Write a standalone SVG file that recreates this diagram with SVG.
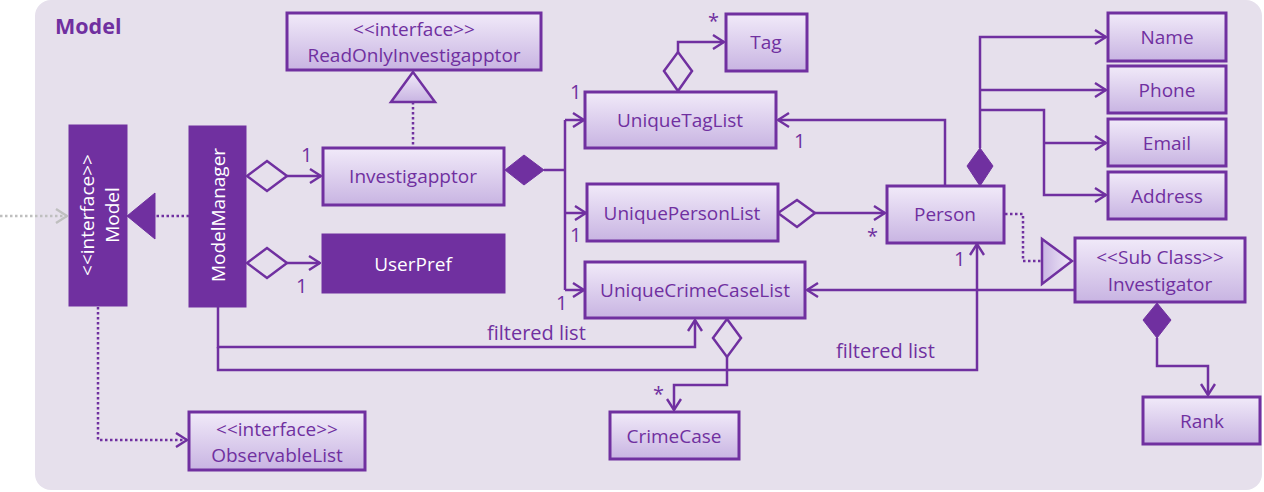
<svg xmlns="http://www.w3.org/2000/svg" width="1264" height="492" viewBox="0 0 1264 492">
<defs>
<linearGradient id="g" x1="0" y1="0" x2="0" y2="1">
<stop offset="0" stop-color="#F1EAF9"/>
<stop offset="1" stop-color="#C8B4E2"/>
</linearGradient>
<linearGradient id="gh" x1="0" y1="0" x2="1" y2="0">
<stop offset="0" stop-color="#C8B4E2"/>
<stop offset="1" stop-color="#F1EAF9"/>
</linearGradient>
<marker id="arr" viewBox="0 0 13 16" refX="12" refY="8" markerWidth="13" markerHeight="16" markerUnits="userSpaceOnUse" orient="auto">
<path d="M1,1 L12,8 L1,15" fill="none" stroke="#7030A0" stroke-width="2.4"/>
</marker>
<marker id="arrg" viewBox="0 0 13 16" refX="12" refY="8" markerWidth="13" markerHeight="16" markerUnits="userSpaceOnUse" orient="auto">
<path d="M1,1 L12,8 L1,15" fill="none" stroke="#BFBFBF" stroke-width="2.4"/>
</marker>
</defs>
<style>
.box{fill:url(#g);stroke:#7030A0;stroke-width:3}
.dark{fill:#7030A0;stroke:#7030A0;stroke-width:1}
.t{font-family:"Open Sans","Noto Sans",sans-serif;font-size:19px;fill:#7030A0;text-anchor:middle}
.w{fill:#FFFFFF}
.ln{fill:none;stroke:#7030A0;stroke-width:2.5}
.dot{fill:none;stroke:#7030A0;stroke-width:2.5;stroke-dasharray:2.5,2.5}
.hd{fill:#E6E0EC;stroke:#7030A0;stroke-width:2.5}
.fd{fill:#7030A0;stroke:#7030A0;stroke-width:1}
.lbl{font-family:"Open Sans","Noto Sans",sans-serif;font-size:20px;fill:#7030A0}
</style>
<rect x="35" y="0" width="1227" height="490" rx="16" fill="#E6E0EC"/>
<text x="55" y="34" font-family="'Open Sans','Noto Sans',sans-serif" font-size="21.5" font-weight="bold" fill="#7030A0">Model</text>

<g id="connectors">
<line x1="0" y1="216" x2="67" y2="216" stroke="#BFBFBF" stroke-width="2.5" stroke-dasharray="2.5,2.5" marker-end="url(#arrg)"/>
<line class="dot" x1="189" y1="216" x2="155" y2="216"/>
<polygon class="fd" points="127,216 155,193 155,239"/>
<polyline class="dot" points="98,307 98,440 187,440" marker-end="url(#arr)"/>
<line class="dot" x1="413" y1="102" x2="413" y2="147"/>
<polygon points="413,72 391,102 435,102" fill="url(#g)" stroke="#7030A0" stroke-width="2.5"/>
<polygon class="hd" points="247,176 267,161 287,176 267,191"/>
<line class="ln" x1="287" y1="176" x2="321" y2="176" marker-end="url(#arr)"/>
<polygon class="hd" points="247,263 267,248 287,263 267,278"/>
<line class="ln" x1="287" y1="263" x2="320" y2="263" marker-end="url(#arr)"/>
<polygon class="fd" points="505,170 524,155 544,170 524,185"/>
<polyline class="ln" points="544,170 565,170"/>
<polyline class="ln" points="565,120 565,290"/>
<line class="ln" x1="565" y1="120" x2="584" y2="120" marker-end="url(#arr)"/>
<line class="ln" x1="565" y1="213" x2="586" y2="213" marker-end="url(#arr)"/>
<line class="ln" x1="565" y1="290" x2="584" y2="290" marker-end="url(#arr)"/>
<polygon class="hd" points="678,91 664,71 678,52 692,71"/>
<polyline class="ln" points="678,52 678,42 724,42" marker-end="url(#arr)"/>
<polygon class="hd" points="778,213 797,200 815,213 797,227"/>
<line class="ln" x1="815" y1="213" x2="885" y2="213" marker-end="url(#arr)"/>
<polyline class="ln" points="945,186 945,120 778,120" marker-end="url(#arr)"/>
<polygon class="fd" points="980,186 967,166 980,148 993,166"/>
<polyline class="ln" points="980,148 980,37 1106,37" marker-end="url(#arr)"/>
<line class="ln" x1="980" y1="90" x2="1106" y2="90" marker-end="url(#arr)"/>
<polyline class="ln" points="980,110 1044,110 1044,195 1106,195" marker-end="url(#arr)"/>
<line class="ln" x1="1044" y1="143" x2="1106" y2="143" marker-end="url(#arr)"/>
<polyline class="dot" points="1005,214 1023,214 1023,261 1042,261"/>
<polygon points="1072,261 1042,239 1042,284" fill="url(#gh)" stroke="#7030A0" stroke-width="2.5"/>
<line class="ln" x1="1075" y1="290" x2="807" y2="290" marker-end="url(#arr)"/>
<polygon class="fd" points="1157,303 1171,320 1157,338 1143,320"/>
<polyline class="ln" points="1157,338 1157,366 1208,366 1208,395" marker-end="url(#arr)"/>
<polygon class="hd" points="727,319 741,338 727,357 713,338"/>
<polyline class="ln" points="727,357 727,385 674,385 674,410" marker-end="url(#arr)"/>
<polyline class="ln" points="218,307 218,347 695,347 695,320" marker-end="url(#arr)"/>
<polyline class="ln" points="218,347 218,370 977,370 977,244" marker-end="url(#arr)"/>
<text class="lbl" x="301" y="162">1</text>
<text class="lbl" x="296" y="293">1</text>
<text class="lbl" x="570" y="99">1</text>
<text class="lbl" x="570" y="242">1</text>
<text class="lbl" x="556" y="310">1</text>
<text class="lbl" x="794" y="148">1</text>
<text class="lbl" x="954" y="266">1</text>
<text class="lbl" x="708" y="28">*</text>
<text class="lbl" x="867" y="243">*</text>
<text class="lbl" x="653" y="401">*</text>
<text class="lbl" x="487" y="340">filtered list</text>
<text class="lbl" x="836" y="358">filtered list</text>
</g>

<g id="Model">
<rect class="dark" x="69" y="125" width="58" height="181"/>
<text class="t w" transform="translate(94,215) rotate(-90)">&lt;&lt;interface&gt;&gt;</text>
<text class="t w" transform="translate(119,215) rotate(-90)">Model</text>
</g>
<g id="ModelManager">
<rect class="dark" x="189" y="126" width="57" height="181"/>
<text class="t w" transform="translate(225,215) rotate(-90)">ModelManager</text>
</g>
<g id="ObservableList">
<rect class="box" x="189" y="412" width="176" height="58"/>
<text class="t" x="277" y="436">&lt;&lt;interface&gt;&gt;</text>
<text class="t" x="277" y="462">ObservableList</text>
</g>
<g id="ReadOnlyInvestigapptor">
<rect class="box" x="287" y="13" width="254" height="57"/>
<text class="t" x="414" y="36">&lt;&lt;interface&gt;&gt;</text>
<text class="t" x="414" y="62">ReadOnlyInvestigapptor</text>
</g>
<g id="Investigapptor">
<rect class="box" x="323" y="148" width="181" height="57"/>
<text class="t" x="413" y="183">Investigapptor</text>
</g>
<g id="UserPref">
<rect class="dark" x="322" y="234" width="183" height="59"/>
<text class="t w" x="413" y="271">UserPref</text>
</g>
<g id="UniqueTagList">
<rect class="box" x="585" y="92" width="191" height="56"/>
<text class="t" x="680" y="127">UniqueTagList</text>
</g>
<g id="UniquePersonList">
<rect class="box" x="587" y="184" width="191" height="57"/>
<text class="t" x="682" y="220">UniquePersonList</text>
</g>
<g id="UniqueCrimeCaseList">
<rect class="box" x="585" y="262" width="220" height="56"/>
<text class="t" x="695" y="297">UniqueCrimeCaseList</text>
</g>
<g id="Tag">
<rect class="box" x="726" y="14" width="81" height="57"/>
<text class="t" x="766" y="49">Tag</text>
</g>
<g id="Person">
<rect class="box" x="887" y="186" width="117" height="57"/>
<text class="t" x="945" y="221">Person</text>
</g>
<g id="Name">
<rect class="box" x="1108" y="13" width="118" height="48"/>
<text class="t" x="1167" y="44">Name</text>
</g>
<g id="Phone">
<rect class="box" x="1108" y="66" width="118" height="47"/>
<text class="t" x="1167" y="97">Phone</text>
</g>
<g id="Email">
<rect class="box" x="1108" y="119" width="118" height="47"/>
<text class="t" x="1167" y="150">Email</text>
</g>
<g id="Address">
<rect class="box" x="1108" y="172" width="118" height="47"/>
<text class="t" x="1167" y="203">Address</text>
</g>
<g id="Investigator">
<rect class="box" x="1075" y="238" width="170" height="64"/>
<text class="t" x="1160" y="264">&lt;&lt;Sub Class&gt;&gt;</text>
<text class="t" x="1160" y="291">Investigator</text>
</g>
<g id="Rank">
<rect class="box" x="1143" y="397" width="117" height="47"/>
<text class="t" x="1202" y="428">Rank</text>
</g>
<g id="CrimeCase">
<rect class="box" x="610" y="412" width="129" height="47"/>
<text class="t" x="674" y="443">CrimeCase</text>
</g>
</svg>
